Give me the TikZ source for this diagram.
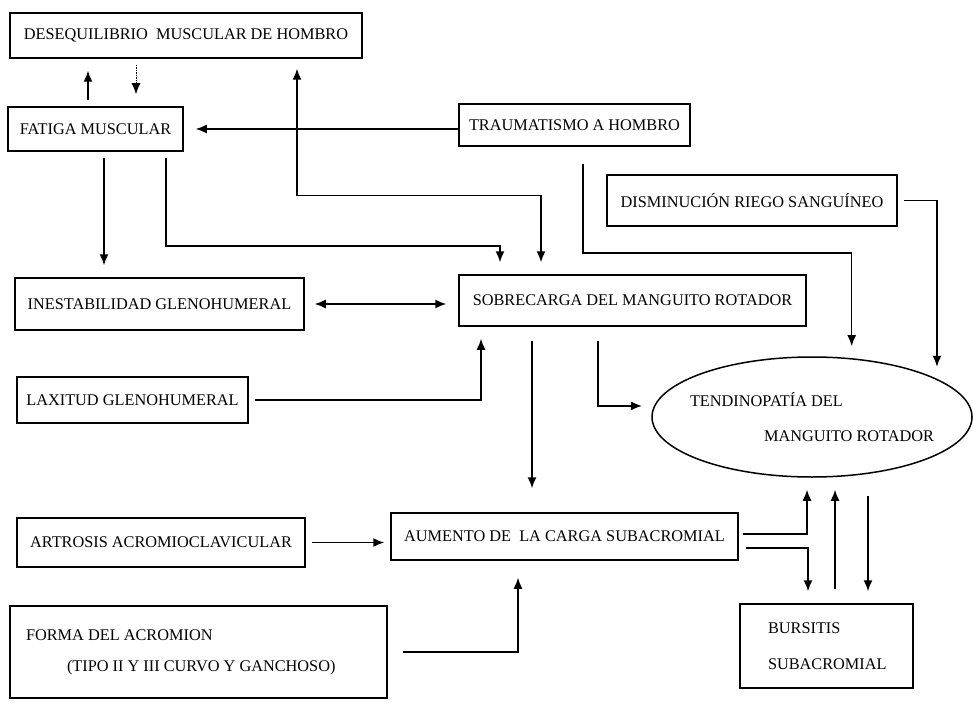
\documentclass[tikz,border=0pt]{standalone}
\usepackage{fontspec}                 % fuentes del sistema
\setmainfont{Liberation Serif}
\usepackage{tikz}
\usetikzlibrary{shapes.geometric,     % elipse
           arrows.meta}               % puntas de flecha
\begin{document}
\begin{tikzpicture}[x=1pt,y=-1pt,font=\fontsize{16.3}{19}\selectfont,
caja/.style 2 args={draw,line width=1.5pt,minimum width=#1,minimum height=#2,inner sep=5pt},
fl/.style={line width=1.5pt,-{Latex[length=11pt,width=9pt]},shorten >=12pt,shorten <=6pt},
fl2/.style={fl,{Latex[length=11pt,width=9pt]}-{Latex[length=11pt,width=9pt]},shorten <=10pt}]
\useasboundingbox(0,0)rectangle(973,703);
\node[caja={352pt}{45pt}](deseq)at(186,35.5){DESEQUILIBRIO\ \ MUSCULAR DE HOMBRO};
\node[caja={175pt}{44pt}](fat)at(95.5,129){FATIGA MUSCULAR};
\node[caja={231pt}{42pt}](trau)at(574.5,125){TRAUMATISMO A HOMBRO};
\node[caja={290pt}{51pt}](dism)at(752,200.5){DISMINUCIÓN RIEGO SANGUÍNEO};
\node[caja={289pt}{52pt}](inest)at(159.5,304){INESTABILIDAD GLENOHUMERAL};
\node[caja={347pt}{51pt}](sobre)at(632.5,300.5){SOBRECARGA DEL MANGUITO ROTADOR};
\node[caja={231pt}{46pt}](lax)at(132.5,400){LAXITUD GLENOHUMERAL};
\node[draw,ellipse,line width=1.5pt,minimum width=320pt,minimum height=120pt,inner xsep=-10pt,align=flush left](tend)at(812,417){TENDINOPATÍA DEL\\[16pt]\hspace*{74pt}MANGUITO ROTADOR};
\node[caja={288pt}{49pt}](artro)at(161,542.5){ARTROSIS ACROMIOCLAVICULAR};
\node[caja={347pt}{47pt}](aum)at(564.5,536.5){AUMENTO DE\ \ LA CARGA SUBACROMIAL};
\node[caja={377pt}{92pt},text width=345pt,inner xsep=16pt,align=flush left](forma)at(198.5,652){FORMA DEL ACROMION\\[12pt]\hspace*{41pt}(TIPO II Y III CURVO Y GANCHOSO)};
\node[caja={173pt}{84pt},text width=117pt,inner xsep=28pt,align=flush left](burs)at(826.5,646){BURSITIS\\[17pt]SUBACROMIAL};
\coordinate(f1)at([xshift=-7.5pt]fat.north);
\coordinate(d1)at([xshift=-50pt]deseq.south);
\coordinate(f2)at([xshift=8.5pt]fat.south);
\coordinate(s2)at([xshift=-100.5pt]sobre.south);
\coordinate(b1)at([xshift=8.5pt]burs.north);
\coordinate(b2)at([xshift=41.5pt]burs.north);
\draw[fl](f1)--(f1|-deseq.south);
\draw[fl,densely dotted,line width=1pt](d1)--(d1|-fat.north);
\draw[fl,shorten <=0pt](trau.west|-fat.east)--(fat.east);
\draw[fl2]([xshift=111pt]deseq.south)--++(0,137)-|([xshift=-91.5pt]sobre.north);
\draw[fl]([xshift=70.5pt]fat.south)--++(0,94)-|([xshift=-132.5pt]sobre.north);
\draw[fl](f2)--(f2|-inest.north);
\draw[fl2](inest.east)--(inest.east-|sobre.west);
\draw[fl](lax.east)-|([xshift=-151.5pt]sobre.south);
\draw[fl,shorten <=17pt]([xshift=8.5pt]trau.south)--++(0,106)-|(tend.56);
\draw[fl](dism.east)-|(tend.17);
\draw[fl,shorten <=14pt]([xshift=-34.5pt]sobre.south)|-(tend.176);
\draw[fl,shorten <=14pt,shorten >=24pt](s2)--(s2|-aum.north);
\draw[fl,shorten >=6pt](artro.east)--(artro.east-|aum.west);
\draw[fl,shorten <=15pt,shorten >=17pt](forma.east)-|([xshift=-46.5pt]aum.south);
\draw[fl,shorten <=4pt]([yshift=2.5pt]aum.east)-|([xshift=-5pt]tend.south);
\draw[fl,shorten <=7pt]([yshift=-11.5pt]aum.east)-|([xshift=-18.5pt]burs.north);
\draw[fl,shorten <=14pt](b1)--(b1|-tend.south);
\draw[fl,shorten <=18pt](b2|-tend.south)--(b2);
\end{tikzpicture}
\end{document}
